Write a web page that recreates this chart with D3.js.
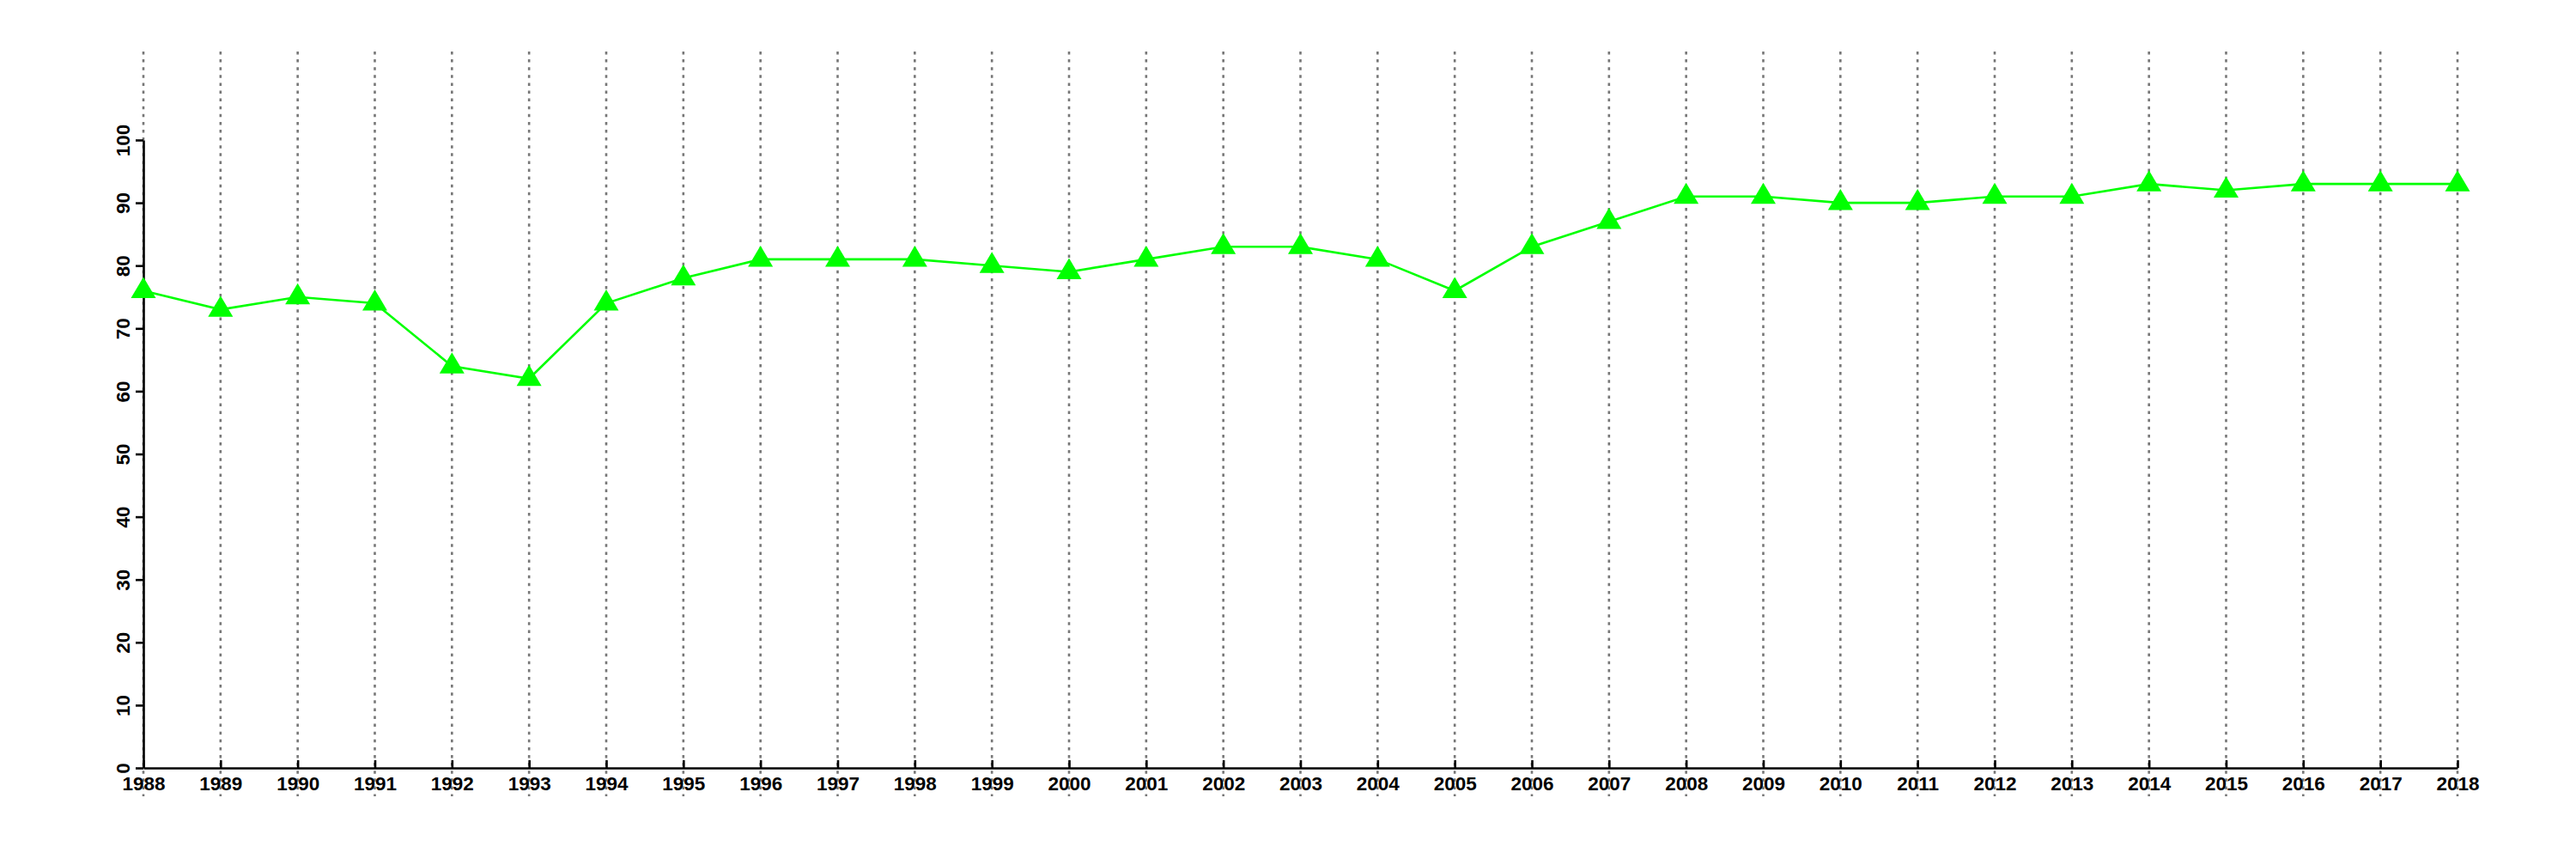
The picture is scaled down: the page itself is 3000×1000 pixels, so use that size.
<!DOCTYPE html>
<html>
<head>
<meta charset="utf-8">
<script src="https://cdn.jsdelivr.net/npm/d3@7"></script>
<style>
  html, body { margin: 0; padding: 0; background: #fff; }
  svg { display: block; }
</style>
</head>
<body>
<svg id="chart" width="3000" height="1000"></svg>
<script>
const years = [1988,1989,1990,1991,1992,1993,1994,1995,1996,1997,1998,1999,2000,2001,2002,2003,2004,2005,2006,2007,2008,2009,2010,2011,2012,2013,2014,2015,2016,2017,2018];
const values = [76,73,75,74,64,62,74,78,81,81,81,80,79,81,83,83,81,76,83,87,91,91,90,90,91,91,93,92,93,93,93];
const yTicks = [0,10,20,30,40,50,60,70,80,90,100];

const svg = d3.select("#chart");
const x = d3.scaleLinear().domain([1988, 2018]).range([167, 2862]);
const y = d3.scaleLinear().domain([0, 100]).range([894, 163]);

const font = "'Liberation Sans', Arial, Helvetica, sans-serif";

// vertical dotted grid lines
svg.append("g").selectAll("line").data(years).join("line")
  .attr("x1", d => x(d)).attr("x2", d => x(d))
  .attr("y1", 60).attr("y2", 927)
  .attr("stroke", "#777").attr("stroke-width", 2.6)
  .attr("stroke-dasharray", "3.5,5.6");

// x axis
const xAxis = d3.axisBottom(x).tickValues(years).tickFormat(d3.format("d")).tickSize(9).tickSizeOuter(0);
const gx = svg.append("g").attr("transform", "translate(0,894)").call(xAxis);
gx.select(".domain").attr("stroke", "#000").attr("stroke-width", 2.6);
gx.selectAll(".tick line").attr("stroke", "#000").attr("stroke-width", 2.6).attr("y2", -9).attr("y1", 0);
gx.selectAll(".tick text").attr("font-family", font).attr("font-size", 22.5).attr("font-weight", "bold")
  .attr("fill", "#000").attr("y", 10).attr("dy", "0.71em");

// y axis
const yAxis = d3.axisLeft(y).tickValues(yTicks).tickSize(9).tickSizeOuter(0);
const gy = svg.append("g").attr("transform", "translate(167,0)").call(yAxis);
gy.select(".domain").attr("stroke", "#000").attr("stroke-width", 2.6);
gy.selectAll(".tick line").attr("stroke", "#000").attr("stroke-width", 2.6);
gy.selectAll(".tick text")
  .attr("font-family", font).attr("font-size", 22.5).attr("font-weight", "bold").attr("fill", "#000")
  .attr("x", null).attr("dy", null)
  .attr("text-anchor", "middle")
  .attr("transform", "translate(-16,0) rotate(-90)");

// line
const line = d3.line().x((d, i) => x(years[i])).y(d => y(d));
svg.append("path").datum(values)
  .attr("d", line)
  .attr("fill", "none").attr("stroke", "#00ff00").attr("stroke-width", 2.6);

// triangle markers
svg.append("g").selectAll("path").data(values).join("path")
  .attr("d", (d, i) => {
    const cx = x(years[i]), cy = y(d);
    return `M${cx},${cy - 16} L${cx + 14.5},${cy + 8.5} L${cx - 14.5},${cy + 8.5} Z`;
  })
  .attr("fill", "#00ff00");
</script>
</body>
</html>
